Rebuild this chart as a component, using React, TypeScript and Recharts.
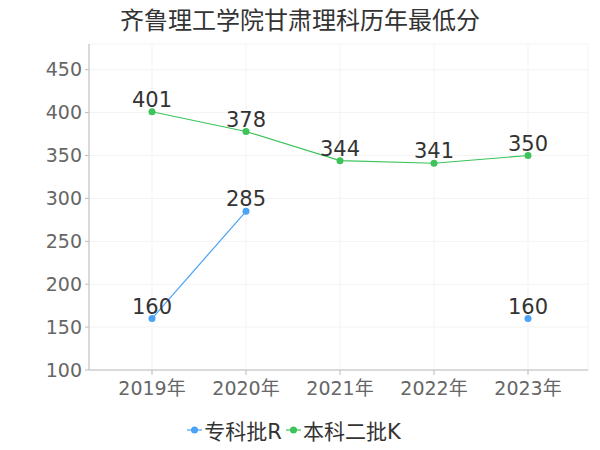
import React from 'react'
import {
  LineChart,
  Line,
  XAxis,
  YAxis,
  CartesianGrid,
  LabelList,
  Legend,
} from 'recharts'

const years = ['2019年', '2020年', '2021年', '2022年', '2023年']
const zhuanke = [160, 285, null, null, 160]
const benke = [401, 378, 344, 341, 350]
const yTicks = [100, 150, 200, 250, 300, 350, 400, 450]

const BLUE = '#4aa3f7'
const GREEN = '#3cc35a'
const FONT = '"DejaVu Sans", "Noto Sans CJK SC", sans-serif'

const data = years.map((year, i) => ({
  year,
  zhuanke: zhuanke[i],
  benke: benke[i],
}))

const LegendContent = ({ payload }: any) => (
  <div
    style={{
      display: 'flex',
      justifyContent: 'center',
      alignItems: 'center',
      fontFamily: FONT,
      fontSize: 21,
      color: '#333',
      paddingTop: 9,
      paddingLeft: 4,
    }}
  >
    {(payload || []).map((item: any) => (
      <span key={item.value} style={{ display: 'flex', alignItems: 'center', marginRight: 4 }}>
        <svg width={15} height={10} style={{ marginRight: 2 }}>
          <line x1={0} y1={5} x2={15} y2={5} stroke={item.color} strokeWidth={2} opacity={0.6} />
          <circle cx={7.5} cy={5} r={3.5} fill={item.color} />
        </svg>
        {item.value}
      </span>
    ))}
  </div>
)

export default function App() {
  return (
    <div style={{ position: 'absolute', left: 0, top: 0, width: 600, height: 450, background: '#fff' }}>
      <div
        style={{
          position: 'absolute',
          top: 2,
          left: 0,
          width: 600,
          textAlign: 'center',
          fontFamily: '"Noto Sans CJK SC", sans-serif',
          fontSize: 24,
          lineHeight: '34px',
          color: '#333',
        }}
      >
        齐鲁理工学院甘肃理科历年最低分
      </div>
      <LineChart
        width={600}
        height={450}
        data={data}
        margin={{ top: 44, right: 12, left: 0, bottom: 0 }}
        style={{ fontFamily: FONT }}
      >
        <CartesianGrid stroke="#f3f3f3" />
        <XAxis
          dataKey="year"
          padding={{ left: 63, right: 60 }}
          stroke="#bbb"
          tickSize={5}
          tickMargin={7}
          tick={{ fill: '#666', fontSize: 19 }}
          height={36}
        />
        <YAxis
          domain={[100, 480]}
          ticks={yTicks}
          width={89}
          stroke="#bbb"
          tickSize={4}
          tickMargin={3}
          tick={{ fill: '#666', fontSize: 19 }}
          allowDataOverflow
        />
        <Legend
          verticalAlign="bottom"
          height={44}
          content={<LegendContent />}
        />
        <Line
          dataKey="zhuanke"
          name="专科批R"
          stroke={BLUE}
          strokeWidth={1.2}
          dot={{ r: 3.5, fill: BLUE, stroke: BLUE, strokeWidth: 0 }}
          isAnimationActive={false}
        >
          <LabelList dataKey="zhuanke" position="top" offset={5} fill="#333" fontSize={21} />
        </Line>
        <Line
          dataKey="benke"
          name="本科二批K"
          stroke={GREEN}
          strokeWidth={1.2}
          dot={{ r: 3.5, fill: GREEN, stroke: GREEN, strokeWidth: 0 }}
          isAnimationActive={false}
        >
          <LabelList dataKey="benke" position="top" offset={5} fill="#333" fontSize={21} />
        </Line>
      </LineChart>
    </div>
  )
}
